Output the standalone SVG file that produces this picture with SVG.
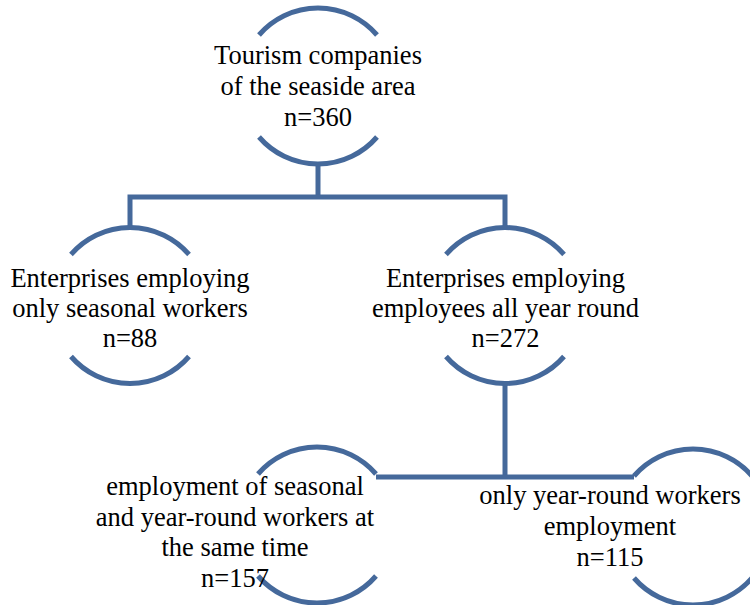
<svg xmlns="http://www.w3.org/2000/svg" width="750" height="605" viewBox="0 0 750 605">
<style>
.arc{fill:none;stroke:#45699b;stroke-width:5}
.conn{fill:none;stroke:#45699b;stroke-width:5;stroke-linejoin:miter}
.t{font-family:'Liberation Serif',serif;font-size:26.5px;fill:#000;text-anchor:middle}
</style>
<rect width="750" height="605" fill="#fff"/>
<g id="connectors">
<path class="conn" d="M318 164 V197"/>
<path class="conn" d="M130 228 V197 H505 V228"/>
<path class="conn" d="M505 383 V477"/>
<path class="conn" d="M376 477 H634"/>
</g>
<g id="node-root" class="t" font-family="Liberation Serif, serif">
<path class="arc" d="M259 35 A78 78 0 0 1 377 35"/>
<path class="arc" d="M259 137 A78 78 0 0 0 377 137"/>
<text x="318" y="64">Tourism companies</text>
<text x="318" y="95">of the seaside area</text>
<text x="318" y="126">n=360</text>
</g>
<g id="node-seasonal" class="t" font-family="Liberation Serif, serif">
<path class="arc" d="M71 254.5 A78 78 0 0 1 189 254.5"/>
<path class="arc" d="M71 356.5 A78 78 0 0 0 189 356.5"/>
<text x="130" y="287">Enterprises employing</text>
<text x="130" y="317">only seasonal workers</text>
<text x="130" y="347">n=88</text>
</g>
<g id="node-allyear" class="t" font-family="Liberation Serif, serif">
<path class="arc" d="M446 254.5 A78 78 0 0 1 564 254.5"/>
<path class="arc" d="M446 356.5 A78 78 0 0 0 564 356.5"/>
<text x="505.5" y="287">Enterprises employing</text>
<text x="505.5" y="317">employees all year round</text>
<text x="505.5" y="347">n=272</text>
</g>
<g id="node-both" class="t" font-family="Liberation Serif, serif">
<path class="arc" d="M258 474 A78 78 0 0 1 376 474"/>
<path class="arc" d="M258 576 A78 78 0 0 0 376 576"/>
<text x="235" y="495">employment of seasonal</text>
<text x="235" y="525.5">and year-round workers at</text>
<text x="235" y="556">the same time</text>
<text x="235" y="586.5">n=157</text>
</g>
<g id="node-yearround" class="t" font-family="Liberation Serif, serif">
<path class="arc" d="M634 476 A78 78 0 0 1 752 476"/>
<path class="arc" d="M634 578 A78 78 0 0 0 752 578"/>
<text x="610" y="504">only year-round workers</text>
<text x="610" y="535">employment</text>
<text x="610" y="566">n=115</text>
</g>
</svg>
